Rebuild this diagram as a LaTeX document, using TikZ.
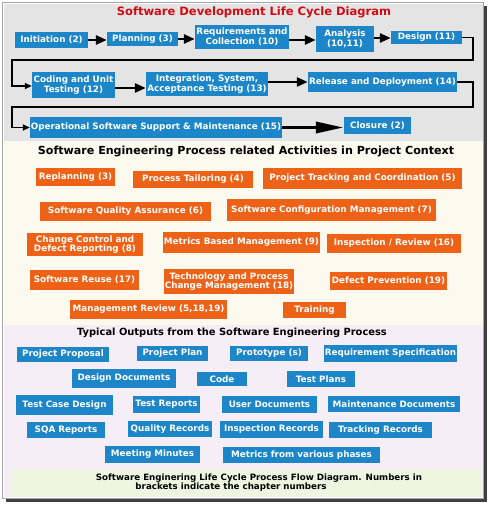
\documentclass[tikz,border=0pt]{standalone}
\usepackage{fontspec}
\setmainfont{DejaVu Sans}
\usetikzlibrary{arrows.meta}
\definecolor{boxblue}{RGB}{28,134,200}
\definecolor{boxorange}{RGB}{238,98,24}
\definecolor{ttlred}{RGB}{210,10,20}
\definecolor{bggray}{RGB}{228,228,228}
\definecolor{bgcream}{RGB}{252,250,238}
\definecolor{bglav}{RGB}{246,238,247}
\definecolor{bggreen}{RGB}{238,246,226}
\tikzset{
  sz/.style 2 args={minimum width=#1pt, minimum height=#2pt},
  boxtext/.style={text=white, inner sep=0pt, align=center, font=\bfseries\fontsize{8.8}{9.6}\selectfont},
  bl/.style={boxtext, fill=boxblue},
  og/.style={boxtext, fill=boxorange},
  flow/.style={line width=2.6pt, -{Triangle[length=11pt,width=9pt]}},
  bigflow/.style={line width=3.5pt, -{Triangle[length=28pt,width=11pt]}},
  loopline/.style={line width=1.6pt, -{Triangle[length=7pt,width=6pt]}},
  ttl/.style={font=\bfseries\fontsize{11.1}{13}\selectfont, inner sep=0pt}
}
\begin{document}
\begin{tikzpicture}[x=1pt,y=-1pt]
\useasboundingbox (0,0) rectangle (489,505);
\fill[white] (0,0) rectangle (489,505);
% backgrounds
\fill[bggray] (4,4) rectangle (483,141);
\fill[bgcream] (4,141) rectangle (483,325);
\fill[bglav] (4,325) rectangle (483,497);
\fill[bggreen] (10,469) rectangle (482,496);
% frame
\draw[gray!70, line width=0.8pt] (2.5,2.5) rectangle (483,498);
\draw[black!75, line width=2.5pt] (485.5,6) -- (485.5,500.5) -- (6,500.5);

% ---------- top section
\node[ttl, text=ttlred, font=\bfseries\fontsize{11.5}{13}\selectfont] (t1) at (254,12) {Software Development Life Cycle Diagram};

\node[bl, sz={73}{16}] (init) at (51.5,40) {Initiation (2)};
\node[bl, sz={71}{14}] (plan) at (142.5,39) {Planning (3)};
\node[bl, sz={94}{24}] (req) at (242,37) {Requirements and\\Collection (10)};
\node[bl, sz={58}{26}] (anal) at (345,39) {Analysis\\(10,11)};
\node[bl, sz={71}{13}] (design) at (426.5,37.5) {Design (11)};
\node[bl, sz={83}{26}] (coding) at (73.5,85) {Coding and Unit\\Testing (12)};
\node[bl, sz={122}{24}] (integ) at (207,84) {Integration, System,\\Acceptance Testing (13)};
\node[bl, sz={149}{20}] (release) at (382.5,82) {Release and Deployment (14)};
\node[bl, sz={252}{21}] (oper) at (156,127.5) {Operational Software Support \& Maintenance (15)};
\node[bl, sz={67}{17}] (closure) at (377.5,125.5) {Closure (2)};

\draw[flow] (init.east) -- (init.east -| plan.west);
\draw[flow] (plan.east) -- (plan.east -| req.west);
\draw[flow] (req.east |- 0,40) -- (anal.west |- 0,40);
\draw[flow] (anal.east |- 0,38) -- (design.west |- 0,38);
\draw[flow] (coding.east |- 0,88) -- (integ.west |- 0,88);
\draw[flow] (integ.east |- 0,82) -- (release.west |- 0,82);
\draw[bigflow] (oper.east) -- (closure.west |- oper.east);

\coordinate (ra) at (473,60);
\coordinate (la) at (12,86);
\coordinate (rb) at (473,107);
\coordinate (lb) at (12,127.5);
\draw[loopline] (design.east) -| (ra) -| (la) -- (la -| coding.west);
\draw[loopline] (release.east) -| (rb) -| (lb) -- (oper.west);

% ---------- middle section
\node[ttl] (t2) at (246,151) {Software Engineering Process related Activities in Project Context};

\node[og, sz={79}{18}] (replan) at (75.5,177) {Replanning (3)};
\node[og, sz={120}{17}] (tailor) at (193,179.5) {Process Tailoring (4)};
\node[og, sz={199}{21}] (track) at (362.5,178.5) {Project Tracking and Coordination (5)};
\node[og, sz={171}{19}] (sqa) at (125.5,211.5) {Software Quality Assurance (6)};
\node[og, sz={209}{22}] (scm) at (331.5,210) {Software Configuration Management (7)};
\node[og, sz={116}{23}] (ccdr) at (85,244.5) {Change Control and\\Defect Reporting (8)};
\node[og, sz={157}{21}] (metrics) at (241.5,242.5) {Metrics Based Management (9)};
\node[og, sz={134}{19}] (insp) at (394,243.5) {Inspection / Review (16)};
\node[og, sz={109}{20}] (reuse) at (84.5,280) {Software Reuse (17)};
\node[og, sz={130}{25}] (tech) at (229,281.5) {Technology and Process\\Change Management (18)};
\node[og, sz={117}{18}] (defprev) at (388.5,281) {Defect Prevention (19)};
\node[og, sz={157}{19}] (mgmt) at (148.5,309.5) {Management Review (5,18,19)};
\node[og, sz={63}{16}] (train) at (314.5,310) {Training};

% ---------- bottom section
\node[ttl, font=\bfseries\fontsize{9.9}{11}\selectfont] (t3) at (232,333) {Typical Outputs from the Software Engineering Process};

\node[bl, sz={92}{15}] (propos) at (63,354.5) {Project Proposal};
\node[bl, sz={71}{15}] (pplan) at (172.5,353.5) {Project Plan};
\node[bl, sz={78}{15}] (proto) at (269,353.5) {Prototype (s)};
\node[bl, sz={133}{17}] (reqspec) at (390.5,353.5) {Requirement Specification};
\node[bl, sz={104}{19}] (desdoc) at (124,378.5) {Design Documents};
\node[bl, sz={50}{14}] (code) at (222,379) {Code};
\node[bl, sz={68}{16}] (tplans) at (321,379) {Test Plans};
\node[bl, sz={97}{20}] (tcd) at (64.5,405) {Test Case Design};
\node[bl, sz={67}{17}] (trep) at (166.5,404.5) {Test Reports};
\node[bl, sz={95}{17}] (udoc) at (269.5,404.5) {User Documents};
\node[bl, sz={132}{16}] (mdoc) at (394,404) {Maintenance Documents};
\node[bl, sz={78}{16}] (sqarep) at (66,430) {SQA Reports};
\node[bl, sz={84}{16}] (qrec) at (170,429) {Quality Records};
\node[bl, sz={103}{17}] (irec) at (271.5,429.5) {Inspection Records};
\node[bl, sz={103}{16}] (trec) at (380.5,430) {Tracking Records};
\node[bl, sz={95}{17}] (meet) at (152.5,454.5) {Meeting Minutes};
\node[bl, sz={157}{16}] (metph) at (301.5,455) {Metrics from various phases};

\node[inner sep=0pt, font=\bfseries\fontsize{8.7}{9.5}\selectfont] (cap1) at (259,478) {Software Enginering Life Cycle Process Flow Diagram. Numbers in};
\node[inner sep=0pt, font=\bfseries\fontsize{8.7}{9.5}\selectfont] (cap2) at (231,487.5) {brackets indicate the chapter numbers};
\end{tikzpicture}
\end{document}
